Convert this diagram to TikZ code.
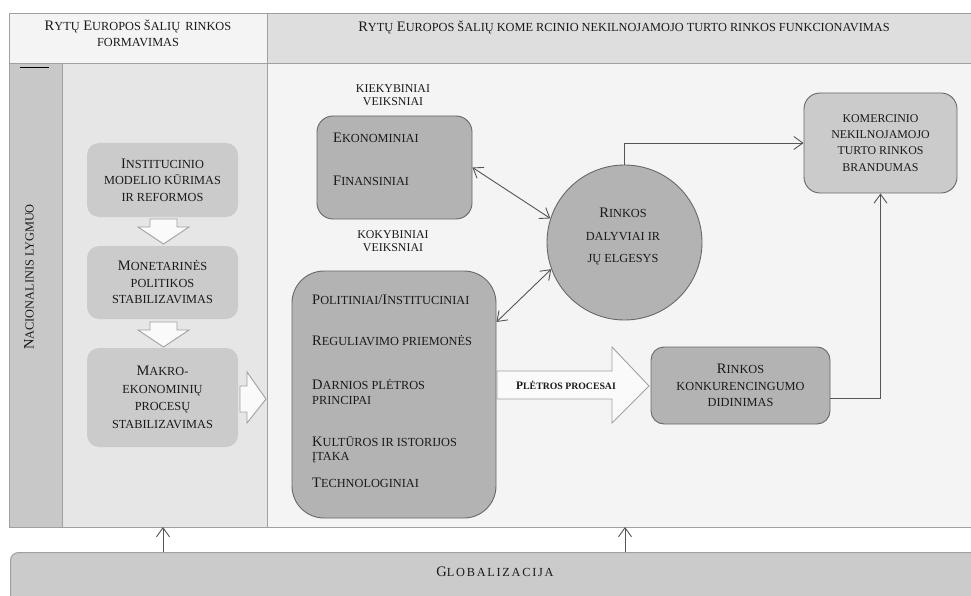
\documentclass[tikz,border=0pt]{standalone}
\usepackage{fontspec}
\setmainfont{Liberation Serif}
\usetikzlibrary{arrows.meta,calc}

% hand-made small capitals: the rest of each word in capitals at 85% size
\makeatletter
\newcommand\lowcaps[1]{{\fontsize{\strip@pt\dimexpr0.85\dimexpr\f@size pt\relax\relax}{\f@baselineskip}\selectfont\MakeUppercase{#1}}}
\makeatother

\definecolor{frameline}{HTML}{A0A0A0}
\definecolor{hdrleft}{HTML}{F4F4F4}
\definecolor{hdrright}{HTML}{DEDEDE}
\definecolor{colnat}{HTML}{C8C8C8}
\definecolor{colform}{HTML}{E6E6E6}
\definecolor{colfunc}{HTML}{F4F4F4}
\definecolor{softbox}{HTML}{CBCBCB}
\definecolor{darkbox}{HTML}{B3B3B3}
\definecolor{boxline}{HTML}{686868}
\definecolor{connline}{HTML}{555555}
\definecolor{blockfill}{HTML}{FAFAFA}
\definecolor{ink}{HTML}{1A1A1A}

\tikzset{
  panel/.style={draw=frameline, line width=1pt},
  stagebox/.style={fill=softbox, rounded corners=12pt, minimum width=151pt,
    align=center, inner sep=0pt, text=ink,
    font=\fontsize{14.5}{16.5}\selectfont},
  factorbox/.style={draw=boxline, fill=darkbox, line width=0.9pt},
  resultbox/.style={draw=boxline, line width=0.9pt, align=center, inner sep=0pt,
    text=ink, font=\fontsize{14.5}{16.5}\selectfont},
  blockarrow/.style={draw=frameline, fill=blockfill, line width=0.9pt},
  txt/.style={text=ink, inner sep=0pt, font=\fontsize{14.5}{16.5}\selectfont},
  conn/.style={draw=connline, line width=0.9pt,
    -{Straight Barb[length=9pt,width=13pt,line width=0.9pt]}},
  dconn/.style={draw=connline, line width=0.9pt,
    {Straight Barb[length=9pt,width=13pt,line width=0.9pt]}-{Straight Barb[length=9pt,width=13pt,line width=0.9pt]}},
}

\begin{document}
\begin{tikzpicture}[x=1pt,y=-1pt]
\useasboundingbox (0,0) rectangle (971,596);
\fill[white] (0,0) rectangle (971,596);

% ---------- header row ----------
\draw[panel, fill=hdrleft]  (9,14) rectangle (267,64);
\draw[panel, fill=hdrright] (267,14) rectangle (980,64);
\node[txt, align=center, font=\fontsize{14.5}{16}\selectfont] (hdrL) at (138,33)
  {R\lowcaps{YTŲ} E\lowcaps{UROPOS ŠALIŲ\, RINKOS}\\ \lowcaps{FORMAVIMAS}};
\node[txt, font=\fontsize{14.5}{16}\selectfont] (hdrR) at (624,27)
  {R\lowcaps{YTŲ} E\lowcaps{UROPOS ŠALIŲ KOME RCINIO NEKILNOJAMOJO TURTO RINKOS FUNKCIONAVIMAS}};

% ---------- main columns ----------
\draw[panel, fill=colnat]  (9,64) rectangle (62,527);
\draw[panel, fill=colform] (62,64) rectangle (267,527);
\draw[panel, fill=colfunc] (267,64) rectangle (980,527);
\draw[line width=1.6pt, black] (20,67.5) -- (49,67.5);
\node[txt, rotate=90] (nat) at (29,277) {N\lowcaps{ACIONALINIS LYGMUO}};

% ---------- formation stages ----------
\node[stagebox, minimum height=74pt] (inst) at (162.5,180)
  {I\lowcaps{NSTITUCINIO}\\ \lowcaps{MODELIO KŪRIMAS}\\ \lowcaps{IR REFORMOS}};
\node[stagebox, minimum height=73pt] (mon) at (162.5,282.5)
  {M\lowcaps{ONETARINĖS}\\ \lowcaps{POLITIKOS}\\ \lowcaps{STABILIZAVIMAS}};
\node[stagebox, minimum height=99pt, font=\fontsize{14.5}{17.5}\selectfont] (makro) at (162.5,397.5)
  {M\lowcaps{AKRO-}\\ \lowcaps{EKONOMINIŲ}\\ \lowcaps{PROCESŲ}\\ \lowcaps{STABILIZAVIMAS}};

% hollow block arrows between stages
\draw[blockarrow] (150,219) -- (177,219) -- (177,227) -- (189,227) -- (163.5,244)
  -- (138,227) -- (150,227) -- cycle;
\draw[blockarrow] (150,322) -- (177,322) -- (177,330) -- (189,330) -- (163.5,347)
  -- (138,330) -- (150,330) -- cycle;
\draw[blockarrow] (240,386) -- (247,386) -- (247,372) -- (266,399) -- (247,423)
  -- (247,412) -- (240,412) -- cycle;

% ---------- quantitative factors ----------
\node[txt, align=center, font=\fontsize{14}{13}\selectfont] (kiek) at (393,95.5)
  {\lowcaps{KIEKYBINIAI}\\ \lowcaps{VEIKSNIAI}};
\node[factorbox, rounded corners=16pt, minimum width=155pt, minimum height=103pt] (ek)
  at (394.5,167.5) {};
\node[txt, anchor=west] (ek1) at (333,138) {E\lowcaps{KONOMINIAI}};
\node[txt, anchor=west] (ek2) at (333,181) {F\lowcaps{INANSINIAI}};

% ---------- qualitative factors ----------
\node[txt, align=center, font=\fontsize{14}{13}\selectfont] (koky) at (393,241)
  {\lowcaps{KOKYBINIAI}\\ \lowcaps{VEIKSNIAI}};
\node[factorbox, rounded corners=32pt, minimum width=204pt, minimum height=247pt] (pol)
  at (394,394.5) {};
\node[txt, anchor=west] (p1) at (312,300) {P\lowcaps{OLITINIAI}/I\lowcaps{NSTITUCINIAI}};
\node[txt, anchor=west] (p2) at (312,341) {R\lowcaps{EGULIAVIMO PRIEMONĖS}};
\node[txt, anchor=west] (p3) at (312,384) {D\lowcaps{ARNIOS PLĖTROS}};
\node[txt, anchor=west] (p4) at (312,400) {\lowcaps{PRINCIPAI}};
\node[txt, anchor=west] (p5) at (312,442) {K\lowcaps{ULTŪROS IR ISTORIJOS}};
\node[txt, anchor=west] (p6) at (312,458) {\lowcaps{ĮTAKA}};
\node[txt, anchor=west] (p7) at (312,483) {T\lowcaps{ECHNOLOGINIAI}};

% ---------- market participants ----------
\node[circle, factorbox, minimum size=155pt, inner sep=0pt] (rd) at (624.5,242.5) {};
\node[txt, align=center, font=\fontsize{14.5}{22.5}\selectfont] (rdt) at (623,236.5)
  {R\lowcaps{INKOS}\\ \lowcaps{DALYVIAI IR}\\ \lowcaps{JŲ ELGESYS}};

% ---------- maturity and competitiveness ----------
\node[resultbox, fill=softbox, rounded corners=16pt, minimum width=153pt, minimum height=100pt,
  font=\fontsize{14}{16.2}\selectfont] (kom) at (880.5,143)
  {\lowcaps{KOMERCINIO}\\ \lowcaps{NEKILNOJAMOJO}\\ \lowcaps{TURTO RINKOS}\\ \lowcaps{BRANDUMAS}};
\node[resultbox, fill=darkbox, rounded corners=13pt, minimum width=179pt, minimum height=77pt,
  font=\fontsize{14.5}{16.5}\selectfont] (kon) at (740.5,385.5)
  {R\lowcaps{INKOS}\\ \lowcaps{KONKURENCINGUMO}\\ \lowcaps{DIDINIMAS}};

% development processes block arrow
\draw[blockarrow] (497,371) -- (612,371) -- (612,347) -- (649,386) -- (612,423)
  -- (612,399) -- (497,399) -- cycle;
\node[txt, font=\bfseries\fontsize{11.5}{13}\selectfont] (plet) at (566,385)
  {P\lowcaps{LĖTROS PROCESAI}};

% ---------- globalisation ----------
\node[draw=frameline, fill=softbox, line width=1pt, rounded corners=8pt, anchor=north west,
  minimum width=990pt, minimum height=70pt] (glob) at (10,552) {};
\node[txt, font=\fontsize{14.5}{16.5}\selectfont\addfontfeatures{LetterSpace=14}] (globt)
  at (495,572) {G\lowcaps{LOBALIZACIJA}};
\coordinate (mainL) at (163,527);
\coordinate (mainR) at (625,527);

% ---------- connectors ----------
\draw[dconn] (ek.east) -- (rd.162);
\draw[dconn] ([yshift=72.5pt]pol.east) -- (rd.200);
\draw[conn] (rd.north) |- (kom.west);
\draw[conn] ([yshift=-12.5pt]kon.east) -| (kom.south);
\draw[conn] (glob.north -| mainL) -- (mainL);
\draw[conn] (glob.north -| mainR) -- (mainR);
\end{tikzpicture}
\end{document}
